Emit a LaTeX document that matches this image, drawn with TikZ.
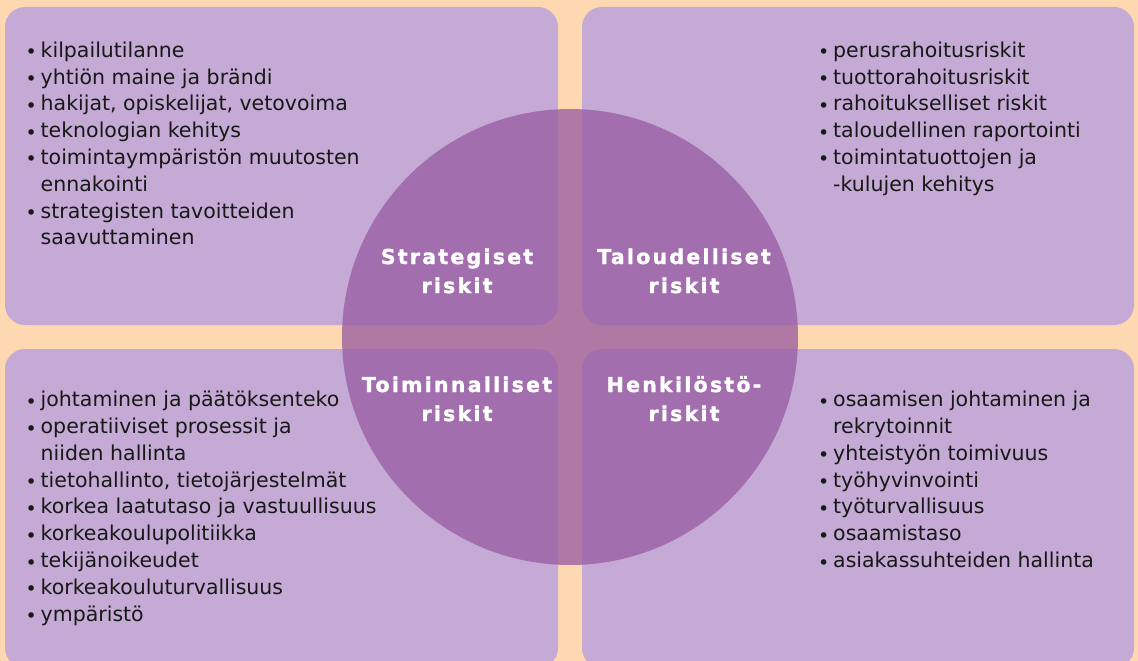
\documentclass[tikz,border=0pt]{standalone}
\usepackage{fontspec}
\setmainfont{DejaVu Sans}
\newfontfamily\titlefont{DejaVu Sans}[LetterSpace=11,BoldFeatures={FakeBold=1.5}]
\definecolor{peach}{RGB}{253,216,176}
\definecolor{boxc}{RGB}{196,170,212}
\definecolor{circc}{RGB}{151,90,161}
\definecolor{ink}{RGB}{24,24,24}
\newcommand{\myitem}[1]{\hbox{\llap{\raisebox{-1.5pt}{\fontsize{19}{19}\selectfont •}\hspace{3.9pt}}#1}}
\newcommand{\mycont}[1]{\hbox{#1}}
\newcommand{\mytitle}[2]{\vtop{\baselineskip=29pt\hbox to 0pt{\hss #1\hss}\hbox to 0pt{\hss #2\hss}}}
\tikzset{
  quad/.style={fill=boxc, rounded corners=20pt},
  lst/.style={anchor=base west, inner sep=0pt, text=ink, font=\fontsize{20.5}{26.8}\selectfont},
  ttl/.style={anchor=base, inner sep=0pt, text=white, font=\titlefont\bfseries\fontsize{20.5}{29}\selectfont},
}
\begin{document}
\begin{tikzpicture}[x=1pt,y=-1pt]
\useasboundingbox (0,0) rectangle (1138,661);
\clip (0,0) rectangle (1138,661);
\fill[peach] (0,0) rectangle (1138,661);
% quadrant boxes
\fill[quad] (5,7) rectangle (558,325);
\fill[quad] (582,7) rectangle (1134,325);
\fill[quad] (5,349) rectangle (558,668);
\fill[quad] (582,349) rectangle (1134,668);
% central circle
\fill[circc, fill opacity=0.75] (570,337) circle[radius=228pt];
% lists
\node[lst] (tl) at (40.5,57.3) {\vtop{\baselineskip=26.8pt
  \myitem{kilpailutilanne}
  \myitem{yhtiön maine ja brändi}
  \myitem{hakijat, opiskelijat, vetovoima}
  \myitem{teknologian kehitys}
  \myitem{toimintaympäristön muutosten}
  \mycont{ennakointi}
  \myitem{strategisten tavoitteiden}
  \mycont{saavuttaminen}}};
\node[lst] (tr) at (833,57.3) {\vtop{\baselineskip=26.8pt
  \myitem{perusrahoitusriskit}
  \myitem{tuottorahoitusriskit}
  \myitem{rahoitukselliset riskit}
  \myitem{taloudellinen raportointi}
  \myitem{toimintatuottojen ja}
  \mycont{-kulujen kehitys}}};
\node[lst] (bl) at (40.5,406.7) {\vtop{\baselineskip=26.8pt
  \myitem{johtaminen ja päätöksenteko}
  \myitem{operatiiviset prosessit ja}
  \mycont{niiden hallinta}
  \myitem{tietohallinto, tietojärjestelmät}
  \myitem{korkea laatutaso ja vastuullisuus}
  \myitem{korkeakoulupolitiikka}
  \myitem{tekijänoikeudet}
  \myitem{korkeakouluturvallisuus}
  \myitem{ympäristö}}};
\node[lst] (br) at (833,406.7) {\vtop{\baselineskip=26.8pt
  \myitem{osaamisen johtaminen ja}
  \mycont{rekrytoinnit}
  \myitem{yhteistyön toimivuus}
  \myitem{työhyvinvointi}
  \myitem{työturvallisuus}
  \myitem{osaamistaso}
  \myitem{asiakassuhteiden hallinta}}};
% titles
\node[ttl] (st) at (457,264) {\mytitle{Strategiset}{riskit}};
\node[ttl] (ta) at (684,264) {\mytitle{Taloudelliset}{riskit}};
\node[ttl] (to) at (457,392) {\mytitle{Toiminnalliset}{riskit}};
\node[ttl] (he) at (684,392) {\mytitle{Henkilöstö-}{riskit}};
\end{tikzpicture}
\end{document}
